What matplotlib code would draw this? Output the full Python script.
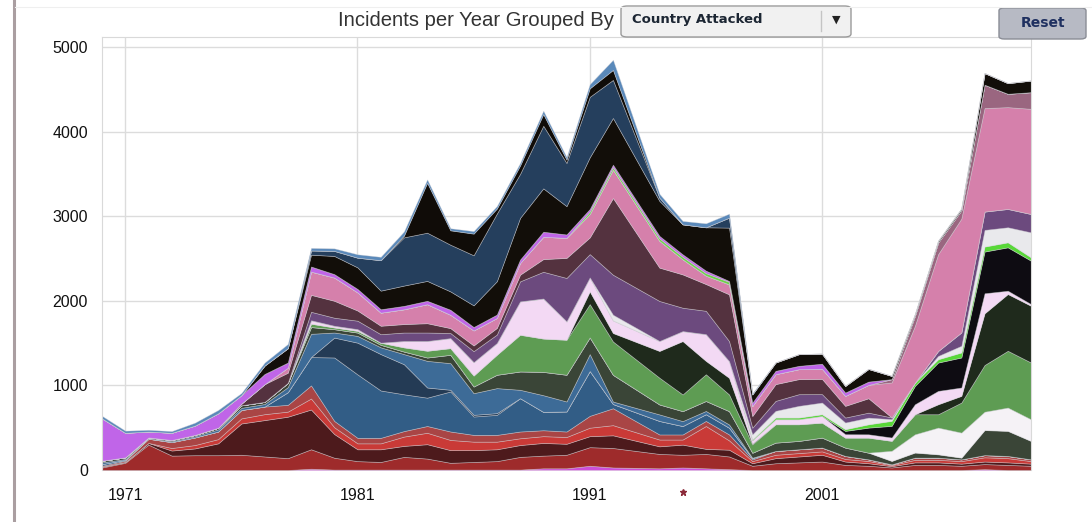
import matplotlib.pyplot as plt
from matplotlib.patches import FancyBboxPatch
from matplotlib.lines import Line2D

# years on the x axis (no 1993 in the source data)
years = [1970, 1971, 1972, 1973, 1974, 1975, 1976, 1977, 1978, 1979,
         1980, 1981, 1982, 1983, 1984, 1985, 1986, 1987, 1988, 1989,
         1990, 1991, 1992, 1994, 1995, 1996, 1997, 1998, 1999, 2000,
         2001, 2002, 2003, 2004, 2005, 2006, 2007, 2008, 2009, 2010]

# incidents per year, one list per stacked layer (bottom -> top)
magenta    = [0, 0, 0, 0, 0, 0, 0, 0, 0, 15, 5, 5, 5, 5, 5, 5, 5, 5, 5, 20, 20, 50, 30,
              20, 30, 20, 10, 0, 0, 0, 0, 0, 0, 0, 0, 0, 0, 10, 0, 0]
brick      = [30, 85, 300, 170, 175, 175, 180, 160, 140, 230, 140, 100, 90, 150, 130, 80, 90, 100, 150, 150, 160, 220, 230,
              170, 150, 170, 150, 50, 80, 90, 100, 60, 50, 30, 60, 60, 50, 60, 60, 50]
maroon     = [10, 10, 20, 60, 80, 140, 370, 430, 490, 470, 280, 140, 150, 130, 170, 150, 140, 140, 140, 150, 130, 130, 150,
              90, 120, 60, 80, 30, 60, 70, 80, 40, 30, 15, 30, 30, 25, 30, 30, 25]
red        = [0, 0, 0, 30, 40, 50, 60, 70, 60, 130, 80, 70, 70, 110, 135, 120, 100, 90, 80, 80, 80, 100, 120,
              80, 60, 270, 110, 25, 40, 40, 40, 30, 26, 12, 30, 30, 30, 50, 50, 30]
rose       = [10, 15, 50, 70, 90, 90, 100, 90, 80, 155, 75, 65, 65, 65, 80, 100, 80, 80, 80, 70, 65, 140, 200,
              60, 60, 60, 70, 20, 45, 45, 45, 36, 20, 10, 26, 26, 21, 26, 26, 21]
steel      = [20, 10, 0, 0, 0, 0, 0, 0, 150, 335, 750, 750, 560, 435, 335, 473, 217, 237, 394, 217, 237, 530, 50,
              160, 100, 80, 80, 15, 0, 0, 0, 0, 0, 0, 0, 0, 0, 0, 0, 0]
navy       = [0, 0, 0, 0, 0, 0, 0, 0, 0, 0, 235, 375, 430, 355, 120, 20, 20, 20, 0, 0, 0, 0, 0,
              0, 0, 0, 0, 0, 0, 0, 0, 0, 0, 0, 0, 0, 0, 0, 0, 0]
blue       = [20, 10, 5, 10, 15, 25, 25, 30, 60, 275, 60, 80, 80, 120, 315, 315, 256, 296, 99, 197, 118, 200, 29,
              77, 58, 38, 38, 5, 0, 0, 0, 0, 0, 0, 0, 0, 0, 0, 0, 0]
slate      = [20, 20, 10, 15, 15, 20, 30, 25, 50, 80, 40, 40, 30, 30, 40, 99, 79, 158, 217, 276, 316, 197, 316,
              118, 118, 118, 158, 59, 99, 99, 118, 99, 79, 40, 60, 39, 20, 296, 296, 217]
white      = [0, 0, 0, 0, 0, 0, 0, 0, 0, 0, 0, 0, 0, 0, 0, 0, 0, 0, 0, 0, 0, 0, 0,
              0, 0, 0, 0, 0, 0, 0, 0, 0, 0, 120, 216, 316, 296, 217, 276, 256]
green      = [0, 0, 0, 0, 0, 0, 0, 0, 0, 40, 20, 20, 25, 50, 80, 79, 130, 237, 434, 394, 414, 394, 394,
              316, 197, 316, 197, 99, 217, 197, 177, 118, 178, 118, 237, 158, 355, 552, 671, 671]
forest     = [0, 0, 0, 0, 0, 0, 0, 0, 0, 0, 0, 0, 0, 0, 0, 0, 0, 0, 0, 0, 0, 150, 100,
              316, 631, 158, 197, 10, 0, 0, 0, 0, 0, 0, 0, 118, 79, 611, 671, 671]
lilac      = [0, 0, 0, 0, 0, 0, 0, 0, 0, 40, 20, 20, 0, 75, 115, 118, 158, 138, 394, 473, 217, 165, 150,
              118, 118, 316, 197, 39, 59, 59, 79, 40, 39, 39, 118, 158, 99, 237, 39, 20]
ink        = [0, 0, 0, 0, 0, 0, 0, 0, 0, 0, 0, 0, 0, 0, 0, 0, 0, 0, 0, 0, 0, 0, 0,
              0, 0, 0, 0, 0, 0, 0, 0, 39, 79, 138, 217, 335, 355, 493, 513, 513]
lime       = [0, 0, 0, 0, 0, 0, 0, 0, 0, 0, 0, 0, 0, 0, 0, 0, 0, 0, 0, 0, 0, 0, 0,
              0, 0, 0, 0, 10, 20, 20, 20, 20, 39, 59, 39, 39, 59, 59, 59, 39]
silver     = [0, 0, 0, 0, 0, 0, 0, 0, 0, 0, 0, 0, 0, 0, 0, 0, 0, 0, 0, 0, 0, 0, 66,
              0, 0, 0, 0, 59, 79, 138, 138, 79, 79, 20, 0, 39, 79, 197, 178, 296]
purple     = [0, 0, 0, 0, 0, 0, 0, 0, 0, 100, 95, 100, 100, 100, 100, 60, 130, 100, 237, 316, 513, 276, 473,
              473, 276, 276, 237, 79, 118, 138, 100, 59, 59, 20, 0, 59, 158, 217, 217, 217]
plum       = [0, 0, 0, 0, 0, 0, 20, 210, 120, 200, 200, 120, 100, 100, 110, 58, 67, 78, 79, 150, 237, 197, 907,
              394, 394, 316, 552, 138, 198, 178, 180, 138, 170, 0, 0, 0, 0, 0, 0, 0]
pink       = [0, 0, 0, 0, 0, 0, 0, 0, 60, 275, 275, 215, 155, 175, 225, 158, 178, 118, 138, 264, 237, 276, 335,
              316, 178, 99, 118, 118, 118, 118, 120, 118, 158, 414, 670, 1144, 1345, 1223, 1203, 1243]
mauve      = [0, 0, 0, 0, 0, 0, 0, 0, 0, 0, 0, 0, 0, 0, 0, 0, 0, 0, 0, 0, 0, 0, 0,
              0, 0, 0, 0, 0, 0, 0, 0, 0, 0, 39, 118, 138, 99, 276, 158, 197]
lime_top   = [0, 0, 0, 0, 0, 0, 0, 0, 0, 0, 0, 0, 0, 0, 0, 0, 0, 0, 0, 0, 0, 30, 30,
              30, 30, 30, 30, 0, 0, 0, 0, 0, 0, 0, 0, 0, 0, 0, 0, 0]
violet     = [500, 290, 70, 85, 110, 170, 100, 120, 60, 60, 40, 40, 40, 40, 40, 59, 40, 40, 40, 59, 40, 30, 29,
              29, 29, 29, 10, 39, 39, 39, 59, 39, 39, 0, 0, 0, 0, 0, 0, 0]
black      = [0, 0, 0, 0, 0, 0, 0, 100, 170, 140, 215, 255, 220, 240, 235, 217, 256, 394, 493, 513, 335, 611, 552,
              414, 355, 513, 631, 99, 99, 138, 120, 79, 150, 39, 20, 20, 20, 138, 126, 138]
dark_blue  = [0, 0, 0, 0, 0, 0, 0, 0, 0, 50, 60, 115, 360, 570, 570, 552, 592, 800, 520, 740, 510, 715, 450,
              39, 0, 0, 118, 0, 0, 0, 0, 0, 0, 0, 0, 0, 0, 0, 0, 0]
black_top  = [0, 0, 0, 0, 0, 0, 0, 0, 0, 0, 0, 0, 0, 20, 590, 170, 256, 59, 99, 138, 40, 100, 118,
              0, 0, 0, 0, 0, 0, 0, 0, 0, 0, 0, 0, 0, 0, 0, 0, 0]
sky        = [30, 25, 20, 20, 35, 40, 25, 35, 50, 30, 30, 40, 40, 50, 40, 25, 30, 30, 30, 40, 30, 50, 120,
              45, 40, 47, 47, 10, 0, 0, 0, 0, 0, 0, 0, 0, 0, 0, 0, 0]

layers = [magenta, brick, maroon, red, rose, steel, navy, blue, slate, white,
          green, forest, lilac, ink, lime, silver, purple, plum, pink, mauve,
          lime_top, violet, black, dark_blue, black_top, sky]
colors = ['#cc4fd9', '#9e2b2b', '#4d1a1c', '#c93a37', '#a94545', '#325d86',
          '#243b55', '#3d6b97', '#3a4537', '#f5f2f6', '#5e9c53', '#1f2a1c',
          '#f3d9f4', '#0e0c12', '#58d838', '#e9e9ec', '#6c4a7e', '#54323f',
          '#d580ab', '#9a6680', '#6fd14a', '#c065e8', '#120e09', '#253f5d',
          '#100c08', '#5a89ba']

x_ticks = [1971, 1981, 1991, 2001]
y_ticks = [0, 1000, 2000, 3000, 4000, 5000]
flag_year = 1995

W, H = 1092, 522
fig = plt.figure(figsize=(W / 100, H / 100), dpi=100)
fig.patch.set_facecolor('white')

ax = fig.add_axes([102 / W, 1 - 470 / H, (1031 - 102) / W, (470 - 37) / H])
polys = ax.stackplot(years, *layers, colors=colors, zorder=2)
for p in polys:
    p.set_edgecolor((0.82, 0.82, 0.84, 0.5))
    p.set_linewidth(0.5)

ax.set_xlim(1970, 2010)
ax.set_ylim(0, 5118)
ax.set_xticks(x_ticks)
ax.set_yticks(y_ticks)
ax.grid(True, color='#dcdcdc', linewidth=1)
ax.set_axisbelow(True)
ax.tick_params(length=0, labelsize=11.5, colors='#111111')
ax.tick_params(axis='y', pad=10)
ax.tick_params(axis='x', pad=13)
for lab in ax.get_xticklabels() + ax.get_yticklabels():
    lab.set_fontfamily('Liberation Sans')
for s in ['left', 'top', 'right']:
    ax.spines[s].set_color('#d9d9d9')
ax.spines['bottom'].set_visible(False)

# small marker under the axis
ax.plot([flag_year], [-260], marker='*', markersize=5, color='#8b2a3a',
        clip_on=False, zorder=5)

# title and controls
fig.text(338 / W, 1 - 21 / H, 'Incidents per Year Grouped By', ha='left', va='center',
         fontsize=14.6, color='#333333', family='Liberation Sans')

drop = FancyBboxPatch((621 / W, 1 - 37 / H), 230 / W, 31 / H,
                      boxstyle='round,pad=0,rounding_size=0.006',
                      transform=fig.transFigure, facecolor='#f1f1f1',
                      edgecolor='#9a9a9a', linewidth=1)
fig.add_artist(drop)
fig.text(632 / W, 1 - 20 / H, 'Country Attacked', ha='left', va='center',
         fontsize=9.5, fontweight='bold', color='#1c2633', family='DejaVu Sans')
fig.add_artist(Line2D([821 / W, 821 / W], [1 - 31 / H, 1 - 11 / H],
                      transform=fig.transFigure, color='#c4c4c4', linewidth=1))
fig.text(836 / W, 1 - 20 / H, '▼', ha='center', va='center', fontsize=8,
         color='#222222', family='DejaVu Sans')

reset = FancyBboxPatch((999 / W, 1 - 39 / H), 87 / W, 31 / H,
                       boxstyle='round,pad=0,rounding_size=0.005',
                       transform=fig.transFigure, facecolor='#b7bac4',
                       edgecolor='#8a8d96', linewidth=1)
fig.add_artist(reset)
fig.text(1043 / W, 1 - 23 / H, 'Reset', ha='center', va='center', fontsize=10,
         fontweight='bold', color='#1f3060', family='DejaVu Sans')

# page frame lines
fig.add_artist(Line2D([13.5 / W, 13.5 / W], [0, 1], transform=fig.transFigure,
                      color='#aa9ea1', linewidth=2.2))
fig.add_artist(Line2D([15 / W, 1], [1 - 7 / H, 1 - 7 / H], transform=fig.transFigure,
                      color='#efefef', linewidth=0.8))

fig.savefig('out.png', dpi=100)
